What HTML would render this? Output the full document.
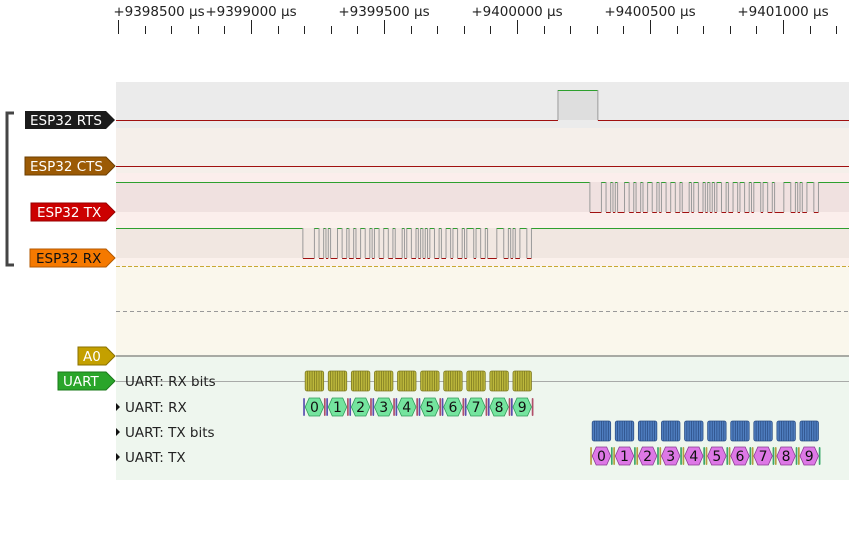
<!DOCTYPE html>
<html><head><meta charset="utf-8">
<style>
html,body{margin:0;padding:0;background:#fff;}
body{width:849px;height:529px;overflow:hidden;font-family:"Liberation Sans","DejaVu Sans",sans-serif;}
svg text{font-family:"DejaVu Sans","Liberation Sans",sans-serif;}
</style></head>
<body>
<svg id="c" width="849" height="529" viewBox="0 0 849 529" xmlns="http://www.w3.org/2000/svg">
  <defs><clipPath id="view"><rect x="116" y="0" width="733" height="529"/></clipPath></defs>
  <rect x="116" y="82" width="733" height="46" fill="#ebebeb"/>
  <rect x="116" y="128" width="733" height="45" fill="#f5efea"/>
  <rect x="116" y="173" width="733" height="47" fill="#fbeeec"/>
  <rect x="116" y="182" width="733" height="30" fill="#f0e1e0"/>
  <rect x="116" y="220" width="733" height="46" fill="#fbf1ec"/>
  <rect x="116" y="228" width="733" height="30" fill="#f1e7e1"/>
  <rect x="116" y="266" width="733" height="90" fill="#faf7ec"/>
  <rect x="116" y="357" width="733" height="123" fill="#eef6ee"/>
  <line x1="116" y1="266.5" x2="849" y2="266.5" stroke="#c9a834" stroke-dasharray="4,2"/>
  <line x1="116" y1="311.5" x2="849" y2="311.5" stroke="#999" stroke-dasharray="4,3"/>
  <line x1="116" y1="356" x2="849" y2="356" stroke="#a8aaa4" stroke-width="2"/>
  <line x1="116" y1="381.5" x2="849" y2="381.5" stroke="#a8aaa8"/>
  <g id="ruler"></g>
  <g id="traces" clip-path="url(#view)"></g>
  <g id="decoders"></g>
  <path d="M14,113 H7 V265 H14" fill="none" stroke="#454545" stroke-width="3"/>
  <g>
    <path d="M25,111 H106 L115,120 L106,129 H25 Z" fill="#1b1b1b"/>
    <text x="30" y="125" font-size="13.5" fill="#fff">ESP32 RTS</text></g>
  <g>
    <path d="M25,157 H106 L115,166 L106,175 H25 Z" fill="#9b5a05" stroke="#6b3e00"/>
    <text x="30" y="171" font-size="13.5" fill="#fff">ESP32 CTS</text></g>
  <g>
    <path d="M31,203 H106 L115,212 L106,221 H31 Z" fill="#cc0000" stroke="#990000"/>
    <text x="37" y="217" font-size="13.5" fill="#fff">ESP32 TX</text></g>
  <g>
    <path d="M30,249 H106 L115,258 L106,267 H30 Z" fill="#f57900" stroke="#b35800"/>
    <text x="36" y="263" font-size="13.5" fill="#111">ESP32 RX</text></g>
  <g>
    <path d="M78,347 H106 L115,356 L106,365 H78 Z" fill="#c4a000" stroke="#8a7000"/>
    <text x="83" y="361" font-size="13.5" fill="#fff">A0</text></g>
  <g>
    <path d="M58,372 H106 L115,381 L106,390 H58 Z" fill="#2aa52a" stroke="#1a7a1a"/>
    <text x="63" y="386" font-size="13.5" fill="#fff">UART</text></g>
  <text x="125" y="386" font-size="13.5" fill="#222">UART: RX bits</text>
  <g><path d="M116,403 L120,407 L116,411 Z" fill="#111"/><text x="125" y="412" font-size="13.5" fill="#222">UART: RX</text></g>
  <g><path d="M116,428 L120,432 L116,436 Z" fill="#111"/><text x="125" y="437" font-size="13.5" fill="#222">UART: TX bits</text></g>
  <g><path d="M116,453 L120,457 L116,461 Z" fill="#111"/><text x="125" y="462" font-size="13.5" fill="#222">UART: TX</text></g>
</svg>
<script>
const tickLabels = ["+9398500 µs","+9399000 µs","+9399500 µs","+9400000 µs","+9400500 µs","+9401000 µs"];
const tickTimes = [9398500, 9399000, 9399500, 9400000, 9400500, 9401000];
const rxChars = ["0","1","2","3","4","5","6","7","8","9"];
const txChars = ["0","1","2","3","4","5","6","7","8","9"];
const rxStartTime = 9399195;
const txStartTime = 9400274;
const bitTime = 8.68;
const rtsPulse = [9400154, 9400304];
const viewStart = 9398500;
const pxPerUs = 133/500;

const NS = "http://www.w3.org/2000/svg";
function xs(t){ return 118 + (t - viewStart) * pxPerUs; }
function mk(tag, attrs, parent){
  const e = document.createElementNS(NS, tag);
  for (const k in attrs) e.setAttribute(k, attrs[k]);
  parent.appendChild(e); return e;
}
const ruler = document.getElementById('ruler');
for (let t = viewStart; t <= 9401300; t += 100) {
  const x = Math.round(xs(t)) + 0.5;
  const major = (t % 500) === 0;
  const l = mk('line', {x1:x, x2:x, y1: major?20:26, y2:34, stroke:'#222', 'stroke-width':1}, ruler);
  
  
}
tickTimes.forEach((t, i) => {
  const cx = Math.max(xs(t), 116 + 43);
  const tx = mk('text', {x: cx, y: 16, 'font-size': 13.5, fill:'#222', 'text-anchor':'middle'}, ruler);
  tx.textContent = tickLabels[i];
  
  
});

function bitsOf(ch){
  const v = ch.charCodeAt(0); const b = [0];
  for (let i=0;i<8;i++) b.push((v>>i)&1);
  b.push(1); return b;
}
const traces = document.getElementById('traces');
function drawDigital(name, hiY, loY, segs){
  const g = mk('g', {}, traces);
  
  
  let prev = null;
  segs.forEach(s => {
    const x0 = xs(s.t0), x1 = xs(s.t1);
    const y = s.level ? hiY : loY;
    if (prev !== null && prev !== s.level) {
      mk('line', {x1:x0, x2:x0, y1:hiY, y2:loY, stroke:'#9a9a9a', 'stroke-width':1}, g);
    }
    mk('line', {x1:x0, x2:x1, y1:y+0.5, y2:y+0.5, stroke: s.level ? '#2ea02e' : '#a01010', 'stroke-width':1}, g);
    prev = s.level;
  });
}
function uartSegs(chars, start){
  const segs = [{t0: viewStart-100, t1: start, level:1}];
  let t = start;
  chars.forEach(c => bitsOf(c).forEach(b => { segs.push({t0:t, t1:t+bitTime, level:b}); t += bitTime; }));
  segs.push({t0:t, t1: 9401400, level:1});
  const m = [];
  segs.forEach(s => { if (m.length && m[m.length-1].level === s.level) m[m.length-1].t1 = s.t1; else m.push({...s}); });
  return m;
}
const rtsG = mk('g', {}, traces);


mk('rect', {x: xs(rtsPulse[0]), y: 90, width: xs(rtsPulse[1]) - xs(rtsPulse[0]), height: 30, fill:'#dedede'}, rtsG);
drawDigital('rts-trace', 90, 120, [
  {t0: viewStart-100, t1: rtsPulse[0], level:0},
  {t0: rtsPulse[0], t1: rtsPulse[1], level:1},
  {t0: rtsPulse[1], t1: 9401400, level:0}]);
drawDigital('cts-trace', 166, 166, [{t0: viewStart-100, t1: 9401400, level:0}]);
drawDigital('tx-trace', 182, 212, uartSegs(txChars, txStartTime));
drawDigital('rx-trace', 228, 258, uartSegs(rxChars, rxStartTime));

const dec = document.getElementById('decoders');
function drawDecoded(chars, start, bitsY, byteY, bitsFill, bitsStroke, hexFill, hexStroke, startCol, stopCol, prefix){
  chars.forEach((c, i) => {
    const t0 = start + i * 10 * bitTime;
    const xS = xs(t0), xD0 = xs(t0 + bitTime), xD1 = xs(t0 + 9*bitTime), xE = xs(t0 + 10*bitTime);
    const gb = mk('g', {}, dec);
    
    
    mk('rect', {x:xD0, y:bitsY-10, width:xD1-xD0, height:20, rx:2, fill:bitsFill, stroke:bitsStroke, 'stroke-width':0.8}, gb);
    for (let k=1;k<8;k++){ const x = xs(t0 + (1+k)*bitTime);
      mk('line', {x1:x, x2:x, y1:bitsY-10, y2:bitsY+10, stroke:bitsStroke, 'stroke-width':0.8}, gb); }
    const g = mk('g', {}, dec);
    
    
    mk('rect', {x:xS+0.3, y:byteY-9, width:xD0-xS-0.6, height:18, rx:1, fill:startCol}, g);
    mk('rect', {x:xD1+0.3, y:byteY-9, width:xE-xD1-0.6, height:18, rx:1, fill:stopCol}, g);
    const a = 4, y0 = byteY-9, y1 = byteY+9;
    mk('path', {d:`M${xD0},${byteY} L${xD0+a},${y0} H${xD1-a} L${xD1},${byteY} L${xD1-a},${y1} H${xD0+a} Z`, fill:hexFill, stroke:hexStroke, 'stroke-width':0.8}, g);
    const tx = mk('text', {x:(xD0+xD1)/2, y:byteY+5, 'font-size':14, 'text-anchor':'middle', fill:'#111'}, g);
    tx.textContent = c;
  });
}
drawDecoded(rxChars, rxStartTime, 381, 407, '#bdb83c', '#7d7a20', '#74e49e', '#2f9a58', '#5b4fb0', '#b0506a', 'uart-rx');
drawDecoded(txChars, txStartTime, 431, 456, '#4f7ec0', '#2c4f86', '#dd78e6', '#8a3a93', '#b4a040', '#3aa86a', 'uart-tx');
</script>
</body></html>
